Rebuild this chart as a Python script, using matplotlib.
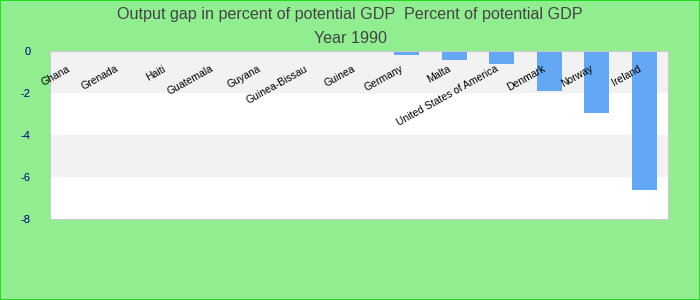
import numpy as np
import matplotlib
matplotlib.use('Agg')
import matplotlib.pyplot as plt

plt.rcParams['font.family'] = ['Liberation Sans', 'DejaVu Sans']

countries = ['Ghana', 'Grenada', 'Haiti', 'Guatemala', 'Guyana', 'Guinea-Bissau', 'Guinea',
             'Germany', 'Malta', 'United States of America', 'Denmark', 'Norway', 'Ireland']
gap = [0, 0, 0, 0, 0, 0, 0, -0.19, -0.43, -0.62, -1.9, -2.95, -6.6]
yticks = [0, -2, -4, -6, -8]

fig = plt.figure(figsize=(7, 3), dpi=100, facecolor='#90ee90')
fig.patches.append(plt.Rectangle((0, 0), 1, 1, transform=fig.transFigure, fill=False,
                                 edgecolor='#22dd22', linewidth=1.5))
ax = fig.add_axes([0.0714, 0.27, 0.883, 0.56])

x = np.arange(len(countries))
# alternating bands
for i in range(4):
    ax.axhspan(-2 * i, -2 * (i + 1), color='#f2f2f2' if i % 2 == 0 else 'white', zorder=0, lw=0)

ax.bar(x, gap, width=0.53, color='#64a8f5', zorder=2)

for xi, name in zip(x, countries):
    ax.text(xi - 0.14, -0.6, name, rotation=29, rotation_mode='anchor', ha='right', va='top',
            fontsize=7.5, color='black', zorder=3)

ax.set_xlim(-0.5, len(countries) - 0.5)
ax.set_ylim(-8, 0)
ax.set_yticks(yticks)
ax.set_yticklabels([str(t) for t in yticks], color='#000080', fontsize=8)
ax.tick_params(axis='y', length=0, pad=14)
ax.set_xticks([])
for s in ax.spines.values():
    s.set_color('#cccccc')

fig.text(0.5, 0.953, 'Output gap in percent of potential GDP  Percent of potential GDP',
         ha='center', va='center', fontsize=11.6, color='#444444')
fig.text(0.5, 0.872, 'Year 1990', ha='center', va='center', fontsize=11.6, color='#444444')

fig.savefig('out.png', dpi=100, facecolor=fig.get_facecolor())
